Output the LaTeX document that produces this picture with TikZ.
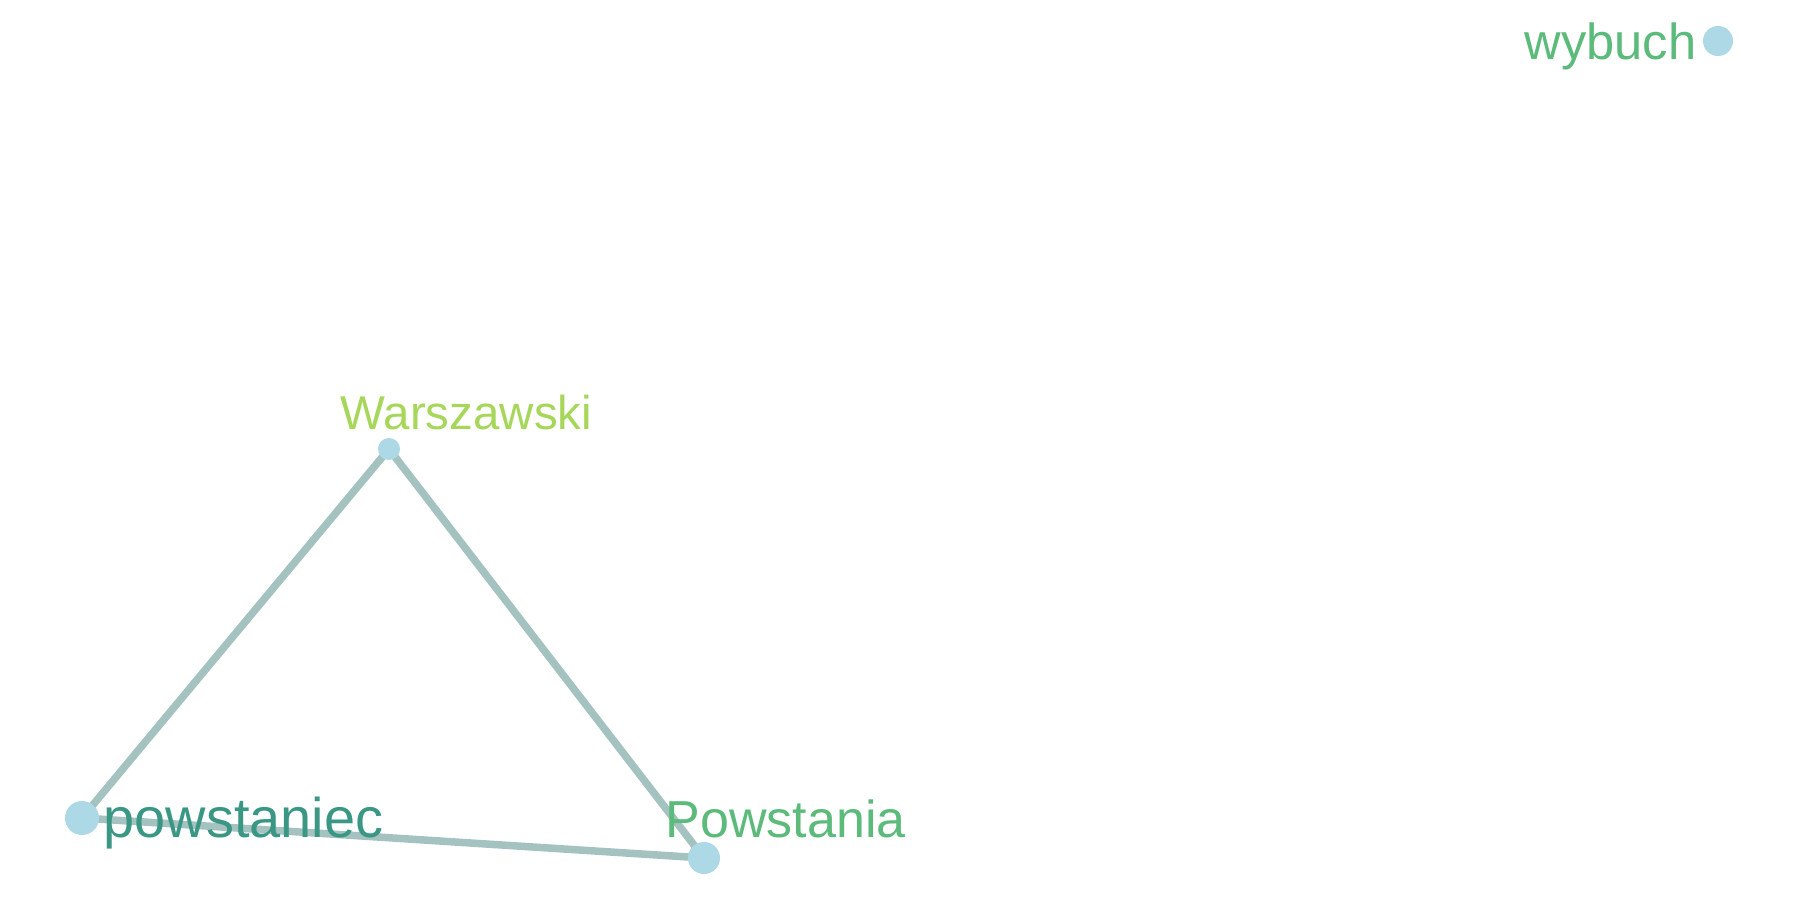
\documentclass[tikz,border=0pt]{standalone}
\usepackage{fontspec}
\setmainfont{Liberation Sans}
\definecolor{dotblue}{HTML}{ADD8E6}
\definecolor{edgegrey}{HTML}{A3C2C0}
\definecolor{lblime}{HTML}{A6D75B}
\definecolor{lbteal}{HTML}{3A9783}
\definecolor{lbgreen}{HTML}{5CBA7B}

\begin{document}
\begin{tikzpicture}[x=0.01cm,y=-0.01cm,
  dot/.style={circle,fill=dotblue,inner sep=0pt,minimum size=#1},
  edge/.style={draw=edgegrey,line width=0.075cm},
  lbl/.style={anchor=base west,inner sep=0pt}]
  \useasboundingbox (0,0) rectangle (1800,900);
  \coordinate (wy) at (1718,41); \coordinate (wa) at (389,449);
  \coordinate (pc) at (82,818); \coordinate (pa) at (704,858);
  \draw[edge] (wa)--(pc)--(pa)--cycle;
  \node[dot=0.30cm] (wyd) at (wy){}; \node[dot=0.22cm] (wad) at (wa){};
  \node[dot=0.34cm] (pcd) at (pc){}; \node[dot=0.32cm] (pad) at (pa){};
  \node[lbl,text=lbgreen,font=\fontsize{14.4pt}{16pt}\selectfont] (wyl) at (1524,59){wybuch};
  \node[lbl,text=lblime,font=\fontsize{13.5pt}{15pt}\selectfont] (wal) at (340,429){Warszawski};
  \node[lbl,text=lbteal,font=\fontsize{15.9pt}{18pt}\selectfont] (pcl) at (103,837){powstaniec};
  \node[lbl,text=lbgreen,font=\fontsize{14.8pt}{17pt}\selectfont] (pal) at (665,837){Powstania};
\end{tikzpicture}
\end{document}
